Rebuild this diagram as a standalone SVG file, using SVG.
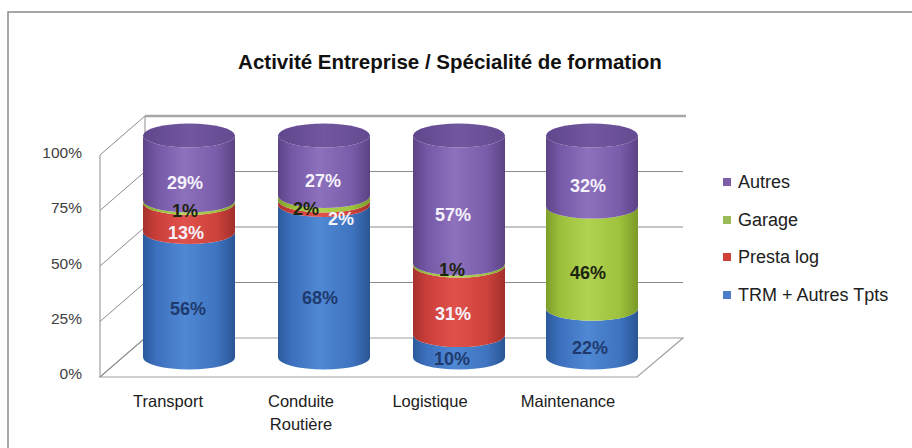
<svg xmlns="http://www.w3.org/2000/svg" width="912" height="448" viewBox="0 0 912 448">
<defs>
<linearGradient id="gP" x1="0" y1="0" x2="1" y2="0">
<stop offset="0" stop-color="#5C4386"/><stop offset="0.15" stop-color="#7558A6"/><stop offset="0.45" stop-color="#8E71BD"/><stop offset="0.8" stop-color="#7A5DAA"/><stop offset="1" stop-color="#5B4285"/>
</linearGradient>
<linearGradient id="gB" x1="0" y1="0" x2="1" y2="0">
<stop offset="0" stop-color="#2B599C"/><stop offset="0.15" stop-color="#3D70BE"/><stop offset="0.45" stop-color="#4F88D3"/><stop offset="0.8" stop-color="#3F74C0"/><stop offset="1" stop-color="#2A5595"/>
</linearGradient>
<linearGradient id="gR" x1="0" y1="0" x2="1" y2="0">
<stop offset="0" stop-color="#A6312D"/><stop offset="0.15" stop-color="#CB3F3A"/><stop offset="0.45" stop-color="#E0514B"/><stop offset="0.8" stop-color="#CE423C"/><stop offset="1" stop-color="#A22F2B"/>
</linearGradient>
<linearGradient id="gG" x1="0" y1="0" x2="1" y2="0">
<stop offset="0" stop-color="#7E9E2A"/><stop offset="0.15" stop-color="#9BBE3A"/><stop offset="0.45" stop-color="#B0D352"/><stop offset="0.8" stop-color="#9EC23C"/><stop offset="1" stop-color="#7B9A28"/>
</linearGradient>
<linearGradient id="gT" x1="0" y1="0" x2="1" y2="0">
<stop offset="0" stop-color="#60468C"/><stop offset="0.5" stop-color="#7257A0"/><stop offset="1" stop-color="#644A90"/>
</linearGradient>
</defs>
<style>
.grid{stroke:#8C8C8C;stroke-width:1;fill:none}
.wall{stroke:#A0A0A0;stroke-width:1.2;fill:none}
.top{stroke:#A6A6A6;stroke-width:2.5;fill:none}
.ax{font-family:"Liberation Sans",Arial,sans-serif;font-size:15.5px;fill:#404040;text-anchor:end}
.cat{font-family:"Liberation Sans",Arial,sans-serif;font-size:16.5px;fill:#202020;text-anchor:middle}
.lg{font-family:"Liberation Sans",Arial,sans-serif;font-size:18px;fill:#202020}
.lbl{font-family:"Liberation Sans",Arial,sans-serif;font-size:18px;font-weight:bold;text-anchor:middle}
.w{fill:#F6F2FB}
.n{fill:#1F3A6E}
.d{fill:#1C2410}
.title{font-family:"Liberation Sans",Arial,sans-serif;font-size:20.5px;font-weight:bold;fill:#111;text-anchor:middle}
</style>
<rect width="912" height="448" fill="#FFFFFF"/>
<g id="frame"><path d="M8,448 V12 H912" fill="none" stroke="#8A8A8A" stroke-width="1.5"/></g>
<g id="title"><text class="title" x="450" y="69">Activité Entreprise / Spécialité de formation</text></g>
<g id="axes">
<path class="wall" d="M100,377 L637,377 L683,338 L145,338 Z" fill="#FFFFFF"/>
<path class="wall" d="M100,155 V377 M145,116 V338"/>
<path class="grid" d="M100,155 L145,116 M100,210.5 L145,171.5 M100,266 L145,227 M100,321.5 L145,282.5 M100,377 L145,338"/>
<path class="grid" d="M145,171.5 H683 M145,227 H683 M145,282.5 H683"/>
<path class="top" d="M145,116 H686"/>
<text class="ax" x="82" y="158">100%</text>
<text class="ax" x="82" y="213">75%</text>
<text class="ax" x="82" y="269">50%</text>
<text class="ax" x="82" y="324">25%</text>
<text class="ax" x="82" y="379">0%</text>
<text class="cat" x="168" y="407">Transport</text>
<text class="cat" x="301" y="407">Conduite</text>
<text class="cat" x="301" y="430">Routière</text>
<text class="cat" x="430" y="407">Logistique</text>
<text class="cat" x="568" y="407">Maintenance</text>
</g>
<g id="bar-transport">
<path fill="url(#gB)" d="M143,231.9 V357.5 A46,12 0 0 0 235,357.5 V231.9 A46,12 0 0 1 143,231.9 Z"/>
<path fill="url(#gR)" d="M143,202.8 V231.9 A46,12 0 0 0 235,231.9 V202.8 A46,12 0 0 1 143,202.8 Z"/>
<path fill="url(#gG)" d="M143,200.5 V202.8 A46,12 0 0 0 235,202.8 V200.5 A46,12 0 0 1 143,200.5 Z"/>
<path fill="url(#gP)" d="M143,135.5 V200.5 A46,12 0 0 0 235,200.5 V135.5 A46,12 0 0 1 143,135.5 Z"/>
<ellipse cx="189" cy="135.5" rx="46" ry="12" fill="url(#gT)"/>
<text class="lbl w" x="185" y="188.5">29%</text>
<text class="lbl d" x="185" y="216.5">1%</text>
<text class="lbl w" x="186" y="238.5">13%</text>
<text class="lbl n" x="188" y="314.5">56%</text>
</g>
<g id="bar-conduite">
<path fill="url(#gB)" d="M278,205 V357.5 A46,12 0 0 0 370,357.5 V205 A46,12 0 0 1 278,205 Z"/>
<path fill="url(#gR)" d="M278,200.5 V205 A46,12 0 0 0 370,205 V200.5 A46,12 0 0 1 278,200.5 Z"/>
<path fill="url(#gG)" d="M278,196 V200.5 A46,12 0 0 0 370,200.5 V196 A46,12 0 0 1 278,196 Z"/>
<path fill="url(#gP)" d="M278,135.5 V196 A46,12 0 0 0 370,196 V135.5 A46,12 0 0 1 278,135.5 Z"/>
<ellipse cx="324" cy="135.5" rx="46" ry="12" fill="url(#gT)"/>
<text class="lbl w" x="323" y="186.5">27%</text>
<text class="lbl d" x="306" y="214.5">2%</text>
<text class="lbl w" x="341" y="224.5">2%</text>
<text class="lbl n" x="320" y="303.5">68%</text>
</g>
<g id="bar-logistique">
<path fill="url(#gB)" d="M413,335.1 V357.5 A46,12 0 0 0 505,357.5 V335.1 A46,12 0 0 1 413,335.1 Z"/>
<path fill="url(#gR)" d="M413,265.6 V335.1 A46,12 0 0 0 505,335.1 V265.6 A46,12 0 0 1 413,265.6 Z"/>
<path fill="url(#gG)" d="M413,263.4 V265.6 A46,12 0 0 0 505,265.6 V263.4 A46,12 0 0 1 413,263.4 Z"/>
<path fill="url(#gP)" d="M413,135.5 V263.4 A46,12 0 0 0 505,263.4 V135.5 A46,12 0 0 1 413,135.5 Z"/>
<ellipse cx="459" cy="135.5" rx="46" ry="12" fill="url(#gT)"/>
<text class="lbl w" x="453" y="220.5">57%</text>
<text class="lbl d" x="452" y="275.5">1%</text>
<text class="lbl w" x="453" y="319.5">31%</text>
<text class="lbl n" x="452" y="364.5">10%</text>
</g>
<g id="bar-maintenance">
<path fill="url(#gB)" d="M546,308.7 V357.5 A46,12 0 0 0 638,357.5 V308.7 A46,12 0 0 1 546,308.7 Z"/>
<path fill="url(#gG)" d="M546,206.6 V308.7 A46,12 0 0 0 638,308.7 V206.6 A46,12 0 0 1 546,206.6 Z"/>
<path fill="url(#gP)" d="M546,135.5 V206.6 A46,12 0 0 0 638,206.6 V135.5 A46,12 0 0 1 546,135.5 Z"/>
<ellipse cx="592" cy="135.5" rx="46" ry="12" fill="url(#gT)"/>
<text class="lbl w" x="588" y="191.5">32%</text>
<text class="lbl d" x="588" y="278.5">46%</text>
<text class="lbl n" x="590" y="353.5">22%</text>
</g>
<g id="legend">
<rect x="723" y="178" width="8" height="8" fill="#7A5FA8"/>
<text class="lg" x="738" y="188">Autres</text>
<rect x="723" y="216" width="8" height="8" fill="#9BBB59"/>
<text class="lg" x="738" y="226">Garage</text>
<rect x="723" y="253" width="8" height="8" fill="#D0403B"/>
<text class="lg" x="738" y="263">Presta log</text>
<rect x="723" y="291" width="8" height="8" fill="#4A7EC8"/>
<text class="lg" x="738" y="301">TRM + Autres Tpts</text>
</g>
</svg>
